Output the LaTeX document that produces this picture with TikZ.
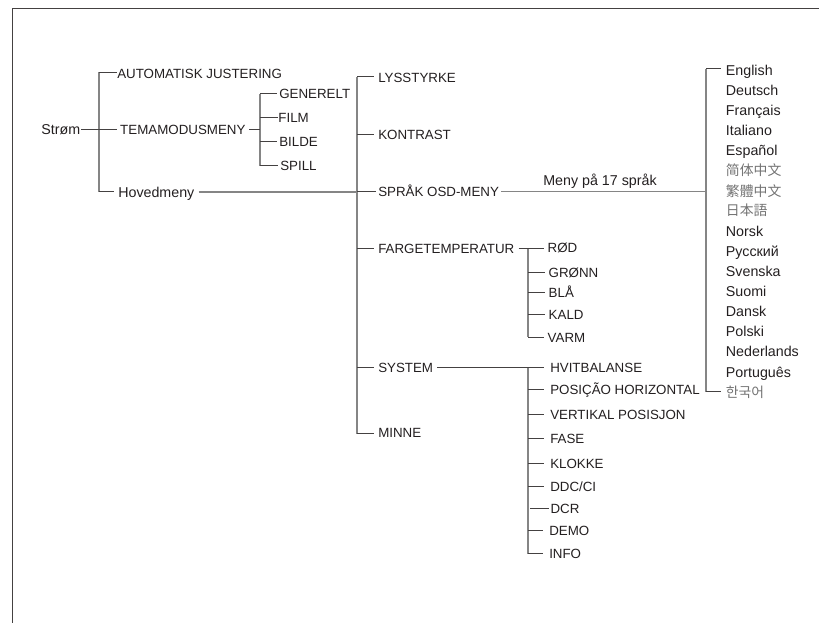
\documentclass[tikz,border=0pt]{standalone}
\usepackage{fontspec}
\setmainfont{Liberation Sans}
\newfontfamily\cjksc{Noto Sans CJK SC}
\newfontfamily\cjktc{Noto Sans CJK TC}
\newfontfamily\cjkjp{Noto Sans CJK JP}
\newfontfamily\cjkkr{Noto Sans CJK KR}
\definecolor{ink}{HTML}{231F20}
\definecolor{spinegray}{HTML}{858585}
\tikzset{
  lab/.style={anchor=west,inner ysep=0pt,inner xsep=0pt,text=ink,font=\fontsize{10}{12}\selectfont,text height=7.2pt,text depth=0pt},
  gaplab/.style={lab,inner xsep=2.6pt},
  mixed/.style={lab,font=\fontsize{10.7}{12}\selectfont,text height=7.6pt},
  lang/.style={mixed,inner xsep=3.5pt},
  cjk/.style={lab,inner xsep=3.5pt,text=black!55,font=\fontsize{10.4}{12}\selectfont},
  spine/.style={draw=spinegray,line width=1.3pt},
  twig/.style={draw=ink!85,line width=0.75pt},
  thick twig/.style={draw=spinegray,line width=1.3pt},
}
\begin{document}
\begin{tikzpicture}[x=0.75pt,y=-0.75pt]
\useasboundingbox (0,0) rectangle (819,623);
\coordinate (fa) at (12.5,623);
\coordinate (fb) at (12.5,8.5);
\coordinate (fc) at (819,8.5);
\draw[draw=ink!85,line width=0.9pt] (fa) -- (fb) -- (fc);
% first level
\node[mixed,inner xsep=0.5pt] (strom) at (40.5,129.5) {Strøm};
\node[lab] (auto) at (117,74) {AUTOMATISK JUSTERING};
\node[gaplab] (tema) at (116.5,129.5) {TEMAMODUSMENY};
\node[mixed,inner xsep=3pt] (hoved) at (114,192) {Hovedmeny};
\coordinate (s1t) at (99,72.5);
\coordinate (s1b) at (99,192);
\draw[spine] (s1t) -- (s1b);
\draw[twig] (s1t) -- (auto.west |- s1t);
\draw[twig] (strom.east) -- (tema.west);
\draw[twig] (s1b) -- (hoved.west);
% theme modes
\node[gaplab,inner xsep=1.5pt] (gen) at (277,94) {GENERELT};
\node[gaplab,inner xsep=0.5pt] (film) at (277.5,118) {FILM};
\node[gaplab,inner xsep=1.5pt] (bilde) at (277,142) {BILDE};
\node[gaplab,inner xsep=1.5pt] (spill) at (278,166) {SPILL};
\coordinate (s2t) at (260,94);
\coordinate (s2b) at (260,166);
\draw[spine] (s2t) -- (s2b);
\draw[twig] (tema.east) -- (s2t |- tema.east);
\foreach \n in {gen,film,bilde,spill}{\draw[twig] (s2t |- \n.west) -- (\n.west);}
% main menu
\node[gaplab,inner xsep=3pt] (lys) at (374,78) {LYSSTYRKE};
\node[gaplab,inner xsep=3pt] (kon) at (374,135) {KONTRAST};
\node[gaplab,inner xsep=1.5pt] (spr) at (376,191.5) {SPRÅK OSD-MENY};
\node[gaplab,inner xsep=3pt] (far) at (374,249) {FARGETEMPERATUR};
\node[gaplab,inner xsep=3pt] (sys) at (374,368) {SYSTEM};
\node[gaplab,inner xsep=3pt] (min) at (374,433) {MINNE};
\coordinate (s3t) at (357,77);
\coordinate (s3b) at (357,434);
\draw[spine] (s3t) -- (s3b);
\draw[twig] (s3t) -- (lys.west |- s3t);
\draw[twig] (s3b) -- (min.west |- s3b);
\foreach \n in {kon,spr,far,sys}{\draw[twig] (s3t |- \n.west) -- (\n.west);}
\draw[thick twig] (hoved.east) -- (s3t |- hoved.east);
% languages
\node[lang] (l1) at (721,70) {English};
\node[lang] (l2) at (721,90) {Deutsch};
\node[lang] (l3) at (721,110) {Français};
\node[lang] (l4) at (721,130) {Italiano};
\node[lang] (l5) at (721,150) {Español};
\node[cjk] (l6) at (721,171) {\cjksc 简体中文};
\node[cjk] (l7) at (721,192) {\cjktc 繁體中文};
\node[cjk] (l8) at (721,211) {\cjkjp 日本語};
\node[lang] (l9) at (721,231) {Norsk};
\node[lang] (l10) at (721,251) {Русский};
\node[lang] (l11) at (721,271) {Svenska};
\node[lang] (l12) at (721,291) {Suomi};
\node[lang] (l13) at (721,311) {Dansk};
\node[lang] (l14) at (721,331) {Polski};
\node[lang] (l15) at (721,351) {Nederlands};
\node[lang] (l16) at (721,372) {Português};
\node[cjk] (l17) at (721,393) {\cjkkr 한국어};
\coordinate (s4t) at (706,69);
\coordinate (s4b) at (706,392);
\draw[spine] (s4t) -- (s4b);
\draw[twig] (s4t) -- (l1.west |- s4t);
\draw[twig] (s4b) -- (l17.west |- s4b);
\draw[thick twig] (spr.east) -- (s4t |- spr.east);
\node[mixed,anchor=center] (meny) at (600,180) {Meny på 17 språk};
% colour temperature
\node[gaplab] (rod) at (544,248) {RØD};
\node[gaplab] (gro) at (545,273) {GRØNN};
\node[gaplab] (bla) at (545,293) {BLÅ};
\node[gaplab] (kal) at (545,315) {KALD};
\node[gaplab] (var) at (544,338) {VARM};
\coordinate (s5t) at (528,249);
\coordinate (s5b) at (528,337);
\draw[spine] (s5t) -- (s5b);
\draw[twig] (far.east) -- (rod.west |- far.east);
\foreach \n in {gro,bla,kal,var}{\draw[twig] (s5t |- \n.west) -- (\n.west);}
% system
\node[gaplab,inner xsep=4.5pt] (hvi) at (544,367.5) {HVITBALANSE};
\node[gaplab,inner xsep=4.5pt] (pos) at (544,390) {POSIÇÃO HORIZONTAL};
\node[gaplab,inner xsep=4.5pt] (ver) at (544,415) {VERTIKAL POSISJON};
\node[gaplab,inner xsep=4.5pt] (fas) at (544,439) {FASE};
\node[gaplab,inner xsep=4.5pt] (klo) at (544,464) {KLOKKE};
\node[gaplab,inner xsep=4.5pt] (ddc) at (544,487) {DDC/CI};
\node[gaplab,inner xsep=1pt] (dcr) at (549,508.5) {DCR};
\node[gaplab,inner xsep=4.5pt] (dem) at (543,531) {DEMO};
\node[gaplab,inner xsep=4.5pt] (inf) at (543,554) {INFO};
\coordinate (s6t) at (528,368);
\coordinate (s6b) at (528,554);
\coordinate (dcrl) at (530,508.5);
\draw[spine] (s6t) -- (s6b);
\draw[twig] (sys.east) -- (hvi.west |- sys.east);
\foreach \n in {pos,ver,fas,klo,ddc,dem,inf}{\draw[twig] (s6t |- \n.west) -- (\n.west);}
\draw[twig] (dcrl) -- (dcr.west);
\end{tikzpicture}
\end{document}
